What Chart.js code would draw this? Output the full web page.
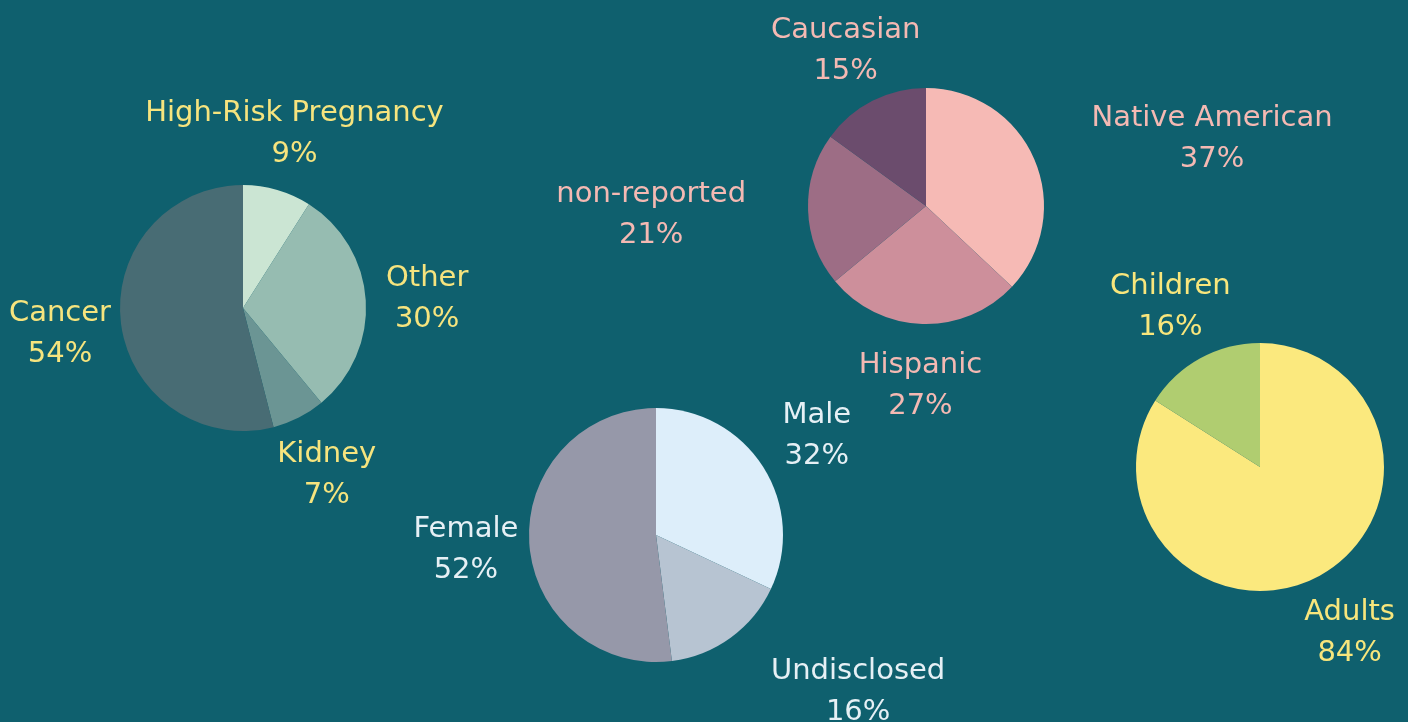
<!DOCTYPE html>
<html>
<head>
<meta charset="utf-8">
<script src="https://cdn.jsdelivr.net/npm/chart.js@4.4.0/dist/chart.umd.min.js"></script>
<style>
    html, body {
        margin: 0;
        padding: 0;
        background: #0f606e;
        width: 1408px;
        height: 722px;
        overflow: hidden;
    }
    canvas {
        position: absolute;
        left: 0;
        top: 0;
    }
</style>
</head>
<body>

<canvas id="diagnosisChart" width="1408" height="722"></canvas>
<canvas id="raceChart" width="1408" height="722"></canvas>
<canvas id="genderChart" width="1408" height="722"></canvas>
<canvas id="ageChart" width="1408" height="722"></canvas>

<script>

// =========================================
// Data
// =========================================

const diagnosisLabels = ["High-Risk Pregnancy", "Other", "Kidney", "Cancer"];
const diagnosisValues = [9, 30, 7, 54];

const raceLabels = ["Native American", "Hispanic", "non-reported", "Caucasian"];
const raceValues = [37, 27, 21, 15];

const genderLabels = ["Male", "Undisclosed", "Female"];
const genderValues = [32, 16, 52];

const ageLabels = ["Adults", "Children"];
const ageValues = [84, 16];


// =========================================
// Outside labels plugin
// =========================================

const W = 1408;
const H = 722;

const outsideLabels = {

    id: "outsideLabels",

    afterDatasetsDraw(chart) {

        const ctx = chart.ctx;
        const ds = chart.data.datasets[0];
        const meta = chart.getDatasetMeta(0);
        const aligns = ds.labelAlign || [];

        ctx.save();
        ctx.font = "29px 'DejaVu Sans'";
        ctx.fillStyle = ds.labelColor;
        ctx.textAlign = "center";
        ctx.textBaseline = "middle";

        meta.data.forEach((arc, i) => {

            const mid = (arc.startAngle + arc.endAngle) / 2;
            const dist = arc.outerRadius * 1.5;

            let x = arc.x + Math.cos(mid) * dist;
            const y = arc.y + Math.sin(mid) * dist + 3;

            const line1 = chart.data.labels[i];
            const line2 = ds.data[i] + "%";

            const w = Math.max(ctx.measureText(line1).width, ctx.measureText(line2).width);

            if (aligns[i] === "left") x += w / 2 + 3;
            if (aligns[i] === "right") x -= w / 2 + 3;

            ctx.fillText(line1, x, y - 20.5);
            ctx.fillText(line2, x, y + 20.5);

        });

        ctx.restore();

    }

};


// =========================================
// Pie builder
// =========================================

function createPie(id, labels, values, colors, labelColor, cx, cy, r, labelAlign) {

    return new Chart(document.getElementById(id), {

        type: "pie",

        data: {

            labels: labels,

            datasets: [{

                data: values,

                backgroundColor: colors,

                borderWidth: 0,

                labelColor: labelColor,

                labelAlign: labelAlign

            }]

        },

        options: {

            responsive: false,

            animation: false,

            events: [],

            layout: {

                padding: {
                    left: cx - r,
                    right: W - (cx + r),
                    top: cy - r,
                    bottom: H - (cy + r)
                }

            },

            plugins: {

                legend: { display: false },

                tooltip: { enabled: false }

            }

        },

        plugins: [outsideLabels]

    });

}


// =========================================
// Charts
// =========================================

createPie(
    "diagnosisChart",
    diagnosisLabels,
    diagnosisValues,
    ["#cbe5d3", "#96bcb1", "#6b9594", "#486c74"],
    "#f6e47e",
    243, 308, 123,
    []
);

createPie(
    "raceChart",
    raceLabels,
    raceValues,
    ["#f6bab5", "#cd8f9b", "#9d6d85", "#6b4c6d"],
    "#f4b9b3",
    926, 206, 118,
    ["left", "center", "right", "center"]
);

createPie(
    "genderChart",
    genderLabels,
    genderValues,
    ["#ddeefa", "#b7c4d2", "#9698a9"],
    "#e6f0f5",
    656, 535, 127,
    ["center", "left", "center"]
);

createPie(
    "ageChart",
    ageLabels,
    ageValues,
    ["#fbe97e", "#b0cd70"],
    "#f8e67c",
    1260, 467, 124,
    []
);

</script>
</body>
</html>
